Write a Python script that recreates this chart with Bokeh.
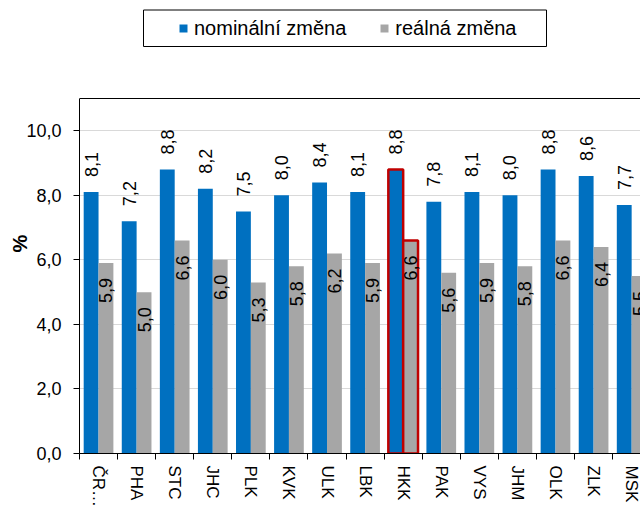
import math
from bokeh.plotting import figure
from bokeh.models import (ColumnDataSource, Range1d, FixedTicker, Legend, LegendItem,
                          BoxAnnotation, Span)
from bokeh.embed import file_html
from bokeh.resources import INLINE
from bokeh.core.properties import value

# ---- data ----
regions = ["ČR…", "PHA", "STC", "JHC", "PLK", "KVK", "ULK", "LBK", "HKK",
           "PAK", "VYS", "JHM", "OLK", "ZLK", "MSK"]
nominal = [8.1, 7.2, 8.8, 8.2, 7.5, 8.0, 8.4, 8.1, 8.8, 7.8, 8.1, 8.0, 8.8, 8.6, 7.7]
real = [5.9, 5.0, 6.6, 6.0, 5.3, 5.8, 6.2, 5.9, 6.6, 5.6, 5.9, 5.8, 6.6, 6.4, 5.5]
series_names = ["nominální změna", "reálná změna"]
y_ticks = [0, 2, 4, 6, 8, 10]
y_tick_labels = ["0,0", "2,0", "4,0", "6,0", "8,0", "10,0"]
y_max = 11
highlight = "HKK"
y_label = "%"

# ---- style / layout ----
BLUE = "#0070C0"
GREY = "#A6A6A6"
RED = "#C00000"
FONT = "Liberation Sans"
BW = 0.39
W, H = 640, 511
LEFT, BOTTOM = 79, 58
PLOT_TOP = 98            # pixel row of the top border (y = y_max)
FRAME_H = H - BOTTOM
CAT_PX = 38.08           # pixels per category
Y_TOP = y_max * FRAME_H / (FRAME_H - PLOT_TOP)
UNIT = (FRAME_H - PLOT_TOP) / y_max


def px_y(row):          # pixel row -> y value
    return (FRAME_H - row) / UNIT


def px_x(col):          # pixel column -> x value
    return (col - LEFT) / CAT_PX


n = len(regions)
centers = [i + 0.5 for i in range(n)]
x_nom = [c - BW / 2 for c in centers]
x_real = [c + BW / 2 for c in centers]


def fmt(v):
    return f"{v:.1f}".replace(".", ",")


src = ColumnDataSource(dict(
    x_nom=x_nom, x_real=x_real, nominal=nominal, real=real,
    lab_nom=[fmt(v) for v in nominal], lab_real=[fmt(v) for v in real],
    hl=[1.0 if r == highlight else 0.0 for r in regions],
))

p = figure(width=W, height=H, x_range=Range1d(0, (W - LEFT) / CAT_PX),
           y_range=Range1d(0, Y_TOP),
           output_backend="svg", toolbar_location=None,
           min_border_left=LEFT, min_border_right=0, min_border_top=0,
           min_border_bottom=BOTTOM)
p.outline_line_color = None
p.background_fill_color = "white"
p.border_fill_color = "white"

r1 = p.vbar(x="x_nom", top="nominal", width=BW, fill_color=BLUE, line_color=RED,
            line_alpha="hl", line_width=2.5, source=src)
r2 = p.vbar(x="x_real", top="real", width=BW, fill_color=GREY, line_color=RED,
            line_alpha="hl", line_width=2.5, source=src)

p.text(x="x_nom", y="nominal", text="lab_nom", angle=math.pi / 2, text_align="left",
       text_baseline="middle", y_offset=-15, text_font=value(FONT),
       text_font_size="18px", text_color="black", source=src)
p.text(x="x_real", y="real", text="lab_real", angle=math.pi / 2, text_align="right",
       text_baseline="middle", y_offset=15, text_font=value(FONT),
       text_font_size="18px", text_color="black", source=src)

# axes
yax = p.yaxis[0]
yax.bounds = (0, y_max)
yax.ticker = FixedTicker(ticks=y_ticks)
yax.major_label_overrides = {t: l for t, l in zip(y_ticks, y_tick_labels)}
yax.major_tick_out = 6
yax.major_tick_in = 0
yax.minor_tick_out = 0
yax.minor_tick_in = 0
yax.major_label_standoff = 12
yax.axis_line_color = "black"
yax.major_tick_line_color = "black"
yax.major_label_text_font = FONT
yax.major_label_text_font_size = "18px"
yax.major_label_text_color = "black"
# trailing no-break spaces shift the centred "%" down to where the reference has it
yax.axis_label = y_label + "\u00a0" * 6
yax.axis_label_standoff = -8
yax.axis_label_text_font = FONT
yax.axis_label_text_font_size = "20px"
yax.axis_label_text_font_style = "bold"
yax.axis_label_text_color = "black"

xax = p.xaxis[0]
xax.ticker = FixedTicker(ticks=centers, minor_ticks=list(range(n + 1)))
xax.major_label_overrides = {c: r for c, r in zip(centers, regions)}
xax.major_label_orientation = "vertical"
xax.major_tick_out = 0
xax.major_tick_in = 0
xax.minor_tick_out = 6
xax.minor_tick_in = 0
xax.minor_tick_line_color = "black"
xax.major_label_standoff = 6
xax.axis_line_color = "black"
xax.major_label_text_font = FONT
xax.major_label_text_font_size = "17px"
xax.major_label_text_color = "black"

p.xgrid.visible = False
p.ygrid.grid_line_color = "#D9D9D9"
p.ygrid.grid_line_width = 1

# top border of the plot area
p.add_layout(Span(location=y_max, dimension="width", line_color="black", line_width=1))

# legend box
p.add_layout(BoxAnnotation(left=px_x(143), right=px_x(546), top=px_y(9.5),
                           bottom=px_y(46), fill_alpha=0, line_color="black",
                           line_alpha=1, line_width=1))

legend = Legend(items=[LegendItem(label=series_names[0], renderers=[r1]),
                       LegendItem(label=series_names[1], renderers=[r2])],
                orientation="horizontal", location=(178 - LEFT, FRAME_H - 39.5),
                border_line_color=None, background_fill_alpha=0,
                glyph_width=10, glyph_height=10, label_standoff=6, spacing=33,
                padding=0, margin=0, label_text_font=FONT,
                label_text_font_size="20px", label_text_color="black")
p.add_layout(legend, "center")

open("out.html", "w").write(file_html(p, INLINE))
